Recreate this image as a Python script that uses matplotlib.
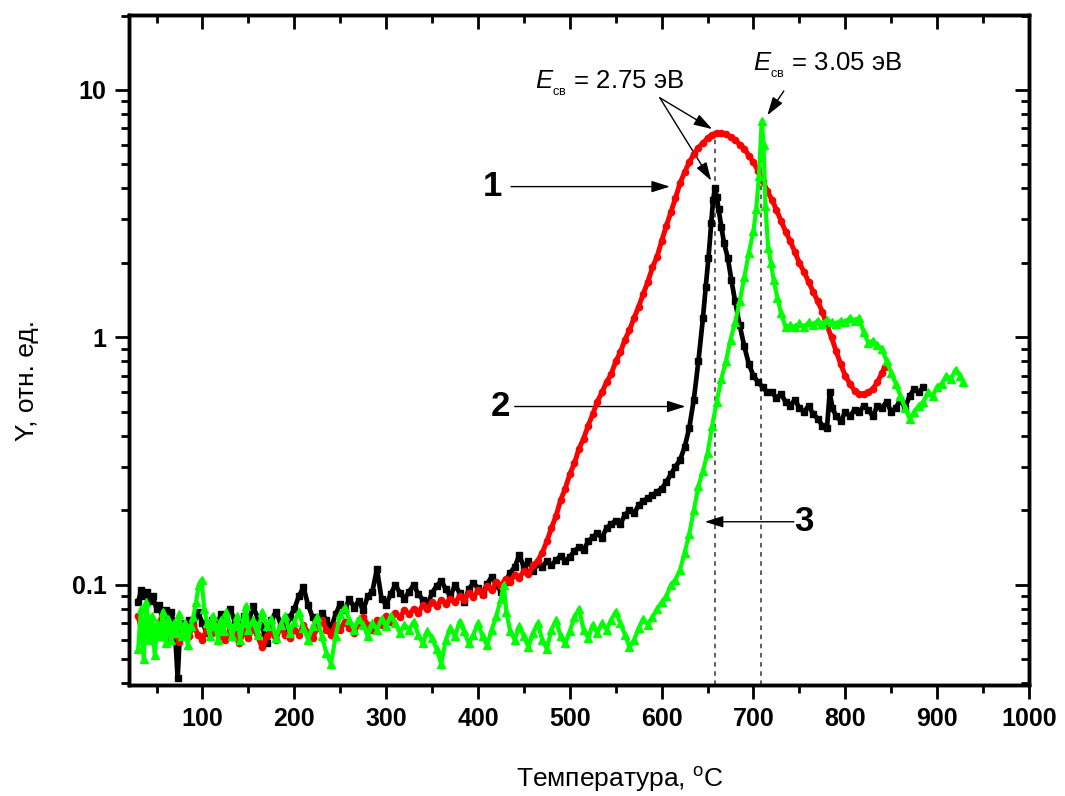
import numpy as np
import matplotlib
matplotlib.use('Agg')
import matplotlib.pyplot as plt

plt.rcParams['font.family'] = ['Liberation Sans', 'DejaVu Sans']
plt.rcParams['mathtext.fontset'] = 'custom'
plt.rcParams['mathtext.rm'] = 'Liberation Sans'
plt.rcParams['mathtext.it'] = 'Liberation Sans:italic'
plt.rcParams['mathtext.bf'] = 'Liberation Sans:bold'

# curve 1 (red)
t_red = [30, 35, 40, 45, 50, 55, 60, 65, 70, 75, 80, 85, 90, 95, 100, 105, 110, 115, 120, 125,
         130, 135, 140, 145, 150, 155, 160, 165, 170, 175, 180, 185, 190, 195, 200, 205, 210, 215,
         220, 225, 230, 235, 240, 245, 250, 255, 260, 265, 270, 275, 280, 285, 290, 295, 300, 305,
         310, 315, 320, 325, 330, 335, 340, 345, 350, 355, 360, 365, 370, 375, 380, 385, 390, 395,
         400, 405, 410, 415, 420, 425, 430, 435, 440, 445, 450, 455, 460, 465, 470, 475, 480, 485,
         490, 495, 500, 505, 510, 515, 520, 525, 530, 535, 540, 545, 550, 555, 560, 565, 570, 575,
         580, 585, 590, 595, 600, 605, 610, 615, 620, 625, 630, 635, 640, 645, 650, 655, 660, 665,
         670, 675, 680, 685, 690, 695, 700, 705, 710, 715, 720, 725, 730, 735, 740, 745, 750, 755,
         760, 765, 770, 775, 780, 785, 790, 795, 800, 805, 810, 815, 820, 825, 830, 835, 840, 843]
y_red = [0.075, 0.062, 0.07, 0.06, 0.066, 0.072, 0.061, 0.068, 0.063, 0.059, 0.066, 0.062, 0.069,
         0.063, 0.06, 0.067, 0.064, 0.07, 0.062, 0.06, 0.066, 0.063, 0.058, 0.065, 0.061, 0.067,
         0.062, 0.056, 0.062, 0.065, 0.06, 0.068, 0.063, 0.061, 0.066, 0.063, 0.069, 0.064, 0.061,
         0.067, 0.072, 0.066, 0.063, 0.069, 0.066, 0.071, 0.067, 0.064, 0.07, 0.074, 0.069, 0.066,
         0.072, 0.069, 0.075, 0.071, 0.077, 0.074, 0.079, 0.076, 0.08, 0.077, 0.083, 0.08, 0.085,
         0.082, 0.087, 0.084, 0.088, 0.085, 0.09, 0.087, 0.093, 0.089, 0.095, 0.091, 0.099, 0.095,
         0.103, 0.099, 0.106, 0.103, 0.11, 0.107, 0.114, 0.111, 0.12, 0.125, 0.135, 0.15, 0.17,
         0.19, 0.22, 0.245, 0.28, 0.31, 0.355, 0.39, 0.44, 0.49, 0.55, 0.6, 0.66, 0.71, 0.8, 0.87,
         0.98, 1.07, 1.2, 1.33, 1.5, 1.68, 1.92, 2.12, 2.45, 2.82, 3.2, 3.65, 4.2, 4.65, 5.1, 5.5,
         5.85, 6.1, 6.4, 6.6, 6.72, 6.68, 6.62, 6.45, 6.3, 6.02, 5.8, 5.42, 5.1, 4.72, 4.3, 3.92,
         3.6, 3.28, 2.96, 2.68, 2.45, 2.22, 2.0, 1.84, 1.68, 1.53, 1.4, 1.27, 1.12, 1.0, 0.88,
         0.78, 0.7, 0.65, 0.61, 0.59, 0.59, 0.6, 0.62, 0.66, 0.72, 0.76]

# curve 2 (black)
t_blk = [30, 33, 36, 40, 43, 46, 50, 53, 56, 60, 63, 66, 70, 73, 76, 80, 85, 90, 95, 100, 105,
         110, 115, 120, 125, 130, 135, 140, 145, 150, 155, 160, 165, 170, 175, 180, 185, 190, 195,
         200, 205, 210, 215, 220, 225, 230, 235, 240, 245, 250, 255, 260, 265, 270, 275, 280, 285,
         290, 295, 300, 305, 310, 315, 320, 325, 330, 335, 340, 345, 350, 355, 360, 365, 370, 375,
         380, 385, 390, 395, 400, 405, 410, 415, 420, 425, 430, 435, 440, 445, 450, 455, 460, 465,
         470, 475, 480, 485, 490, 495, 500, 505, 510, 515, 520, 525, 530, 535, 540, 545, 550, 555,
         560, 565, 570, 575, 580, 585, 590, 595, 600, 605, 610, 615, 620, 625, 630, 635, 640, 645,
         648, 651, 654, 656, 658, 660, 662, 665, 668, 672, 676, 680, 685, 690, 695, 700, 705, 710,
         715, 720, 725, 730, 735, 740, 745, 750, 755, 760, 765, 770, 775, 780, 783, 786, 790, 795,
         800, 805, 810, 815, 820, 825, 830, 835, 840, 845, 850, 855, 860, 865, 870, 875, 880, 885]
y_blk = [0.085, 0.095, 0.09, 0.094, 0.086, 0.09, 0.08, 0.083, 0.075, 0.079, 0.072, 0.078, 0.066,
         0.042, 0.07, 0.064, 0.072, 0.068, 0.078, 0.07, 0.064, 0.072, 0.066, 0.076, 0.07, 0.08,
         0.072, 0.065, 0.075, 0.07, 0.082, 0.074, 0.068, 0.058, 0.072, 0.078, 0.07, 0.065, 0.074,
         0.08, 0.09, 0.098, 0.083, 0.074, 0.069, 0.077, 0.072, 0.067, 0.076, 0.084, 0.079, 0.088,
         0.081, 0.086, 0.079, 0.09, 0.094, 0.116, 0.088, 0.083, 0.092, 0.1, 0.093, 0.088, 0.094,
         0.1, 0.092, 0.087, 0.083, 0.093, 0.099, 0.104, 0.096, 0.09, 0.1, 0.093, 0.085, 0.096,
         0.102, 0.097, 0.092, 0.101, 0.108, 0.1, 0.094, 0.103, 0.112, 0.118, 0.132, 0.118, 0.125,
         0.114, 0.122, 0.118, 0.125, 0.12, 0.126, 0.131, 0.125, 0.13, 0.137, 0.142, 0.138, 0.15,
         0.156, 0.162, 0.155, 0.17, 0.176, 0.182, 0.176, 0.192, 0.2, 0.195, 0.21, 0.218, 0.225,
         0.23, 0.238, 0.245, 0.26, 0.28, 0.3, 0.32, 0.36, 0.43, 0.56, 0.8, 1.2, 1.6, 2.1, 2.9,
         3.6, 4.0, 3.7, 3.3, 2.8, 2.4, 2.1, 1.7, 1.4, 1.12, 0.92, 0.78, 0.7, 0.66, 0.63, 0.6, 0.6,
         0.57, 0.59, 0.55, 0.53, 0.56, 0.52, 0.5, 0.53, 0.49, 0.47, 0.44, 0.43, 0.6, 0.52, 0.48,
         0.46, 0.5, 0.48, 0.51, 0.5, 0.53, 0.51, 0.48, 0.53, 0.52, 0.55, 0.5, 0.52, 0.56, 0.52,
         0.58, 0.62, 0.6, 0.63]

# curve 3 (green)
t_grn = [30, 33, 36, 39, 42, 45, 48, 51, 54, 57, 60, 63, 66, 69, 72, 75, 78, 81, 84, 87, 90, 93,
         96, 99, 102, 105, 108, 111, 114, 117, 120, 123, 126, 129, 132, 135, 138, 141, 144, 147,
         150, 155, 160, 165, 170, 175, 180, 185, 190, 195, 200, 205, 210, 215, 220, 225, 230, 235,
         240, 245, 250, 255, 260, 265, 270, 275, 280, 285, 290, 295, 300, 305, 310, 315, 320, 325,
         330, 335, 340, 345, 350, 355, 360, 365, 370, 375, 380, 385, 390, 395, 400, 405, 410, 415,
         420, 425, 428, 431, 435, 440, 445, 450, 455, 460, 465, 470, 475, 480, 485, 490, 495, 500,
         505, 510, 515, 520, 525, 530, 535, 540, 545, 550, 555, 560, 565, 570, 575, 580, 585, 590,
         595, 600, 605, 610, 615, 620, 625, 630, 635, 640, 645, 650, 655, 660, 665, 670, 675, 680,
         685, 690, 695, 700, 703, 706, 709, 711, 713, 716, 719, 722, 726, 730, 735, 740, 745, 750,
         755, 760, 765, 770, 775, 780, 785, 790, 795, 800, 805, 810, 815, 820, 825, 830, 835, 840,
         845, 850, 855, 860, 865, 870, 875, 880, 885, 890, 895, 900, 905, 910, 915, 920, 925, 928]
y_grn = [0.055, 0.08, 0.05, 0.085, 0.06, 0.075, 0.052, 0.07, 0.062, 0.078, 0.058, 0.073, 0.06,
         0.07, 0.064, 0.076, 0.062, 0.07, 0.057, 0.068, 0.074, 0.085, 0.1, 0.105, 0.08, 0.07, 0.062,
         0.075, 0.068, 0.06, 0.072, 0.065, 0.078, 0.07, 0.062, 0.068, 0.075, 0.06, 0.07, 0.082,
         0.066, 0.072, 0.063, 0.078, 0.068, 0.073, 0.061, 0.069, 0.075, 0.064, 0.071, 0.078, 0.067,
         0.06, 0.068, 0.074, 0.062, 0.053, 0.048, 0.062, 0.076, 0.081, 0.072, 0.066, 0.073, 0.069,
         0.062, 0.07, 0.066, 0.073, 0.068, 0.075, 0.07, 0.064, 0.069, 0.066, 0.071, 0.063, 0.058,
         0.065, 0.061, 0.055, 0.048, 0.06, 0.067, 0.062, 0.071, 0.065, 0.058, 0.063, 0.07, 0.062,
         0.057, 0.066, 0.075, 0.088, 0.1, 0.078, 0.065, 0.06, 0.068, 0.062, 0.056, 0.064, 0.07,
         0.06, 0.055, 0.066, 0.072, 0.062, 0.058, 0.065, 0.074, 0.08, 0.066, 0.061, 0.069, 0.064,
         0.07, 0.066, 0.072, 0.078, 0.07, 0.063, 0.056, 0.06, 0.067, 0.073, 0.069, 0.074, 0.08,
         0.085, 0.09, 0.1, 0.105, 0.115, 0.135, 0.16, 0.2, 0.25, 0.29, 0.34, 0.44, 0.55, 0.68, 0.8,
         0.98, 1.15, 1.4, 1.75, 2.2, 2.7, 3.3, 4.5, 7.5, 6.0, 3.4, 2.3, 2.0, 1.7, 1.45, 1.25, 1.1,
         1.12, 1.1, 1.14, 1.1, 1.15, 1.12, 1.17, 1.13, 1.18, 1.15, 1.13, 1.17, 1.15, 1.2, 1.17,
         1.2, 1.05, 0.95, 0.97, 0.93, 0.9, 0.8, 0.72, 0.65, 0.58, 0.52, 0.47, 0.5, 0.53, 0.55, 0.6,
         0.58, 0.63, 0.65, 0.7, 0.68, 0.74, 0.7, 0.66]

peak_t = [658, 708]
peak_y = [6.7, 7.6]

x_major = [100, 200, 300, 400, 500, 600, 700, 800, 900, 1000]
x_minor = [50, 150, 250, 350, 450, 550, 650, 750, 850, 950]
y_major = [0.1, 1, 10]
y_labels = ['0.1', '1', '10']

fig = plt.figure(figsize=(10.65, 7.96), dpi=100)
ax = fig.add_axes([0.1211, 0.1394, 0.8451, 0.8418])

ax.plot(t_blk, y_blk, color='black', lw=3.4, marker='s', ms=5, zorder=3)
ax.plot(t_red, y_red, color='#ff0000', lw=3.6, marker='o', ms=4.5, zorder=4)
ax.plot(t_grn, y_grn, color='#00ff00', lw=3.0, marker='^', ms=5.5, zorder=5)

ax.set_yscale('log')
ax.set_xlim(20, 1000)
ax.set_ylim(0.0394, 20.1)

ax.vlines(peak_t, 0.0394, peak_y, colors='#333333', linestyles=(0, (3, 3)), lw=1.1, zorder=2)

ax.set_xticks(x_major)
ax.set_xticklabels([str(v) for v in x_major], fontweight='bold', fontsize=18)
ax.set_xticks(x_minor, minor=True)
ax.set_yticks(y_major)
ax.set_yticklabels(y_labels, fontweight='bold', fontsize=18)
ax.tick_params(which='major', length=10, width=2.0, direction='out', pad=6)
ax.tick_params(which='minor', length=5.5, width=2.0, direction='out')
for sp in ax.spines.values():
    sp.set_linewidth(2.4)

# inward ticks on top and right
axr = ax.twinx()
axr.set_yscale('log')
axr.set_ylim(ax.get_ylim())
axr.set_yticks(y_major)
axr.tick_params(which='major', length=10, width=2.0, direction='in', labelright=False)
axr.tick_params(which='minor', length=5.5, width=2.0, direction='in')
axt = ax.twiny()
axt.set_xlim(ax.get_xlim())
axt.set_xticks(x_major)
axt.set_xticks(x_minor, minor=True)
axt.tick_params(which='major', length=10, width=2.0, direction='in', labeltop=False)
axt.tick_params(which='minor', length=5.5, width=2.0, direction='in')
for a in (axr, axt):
    for sp in a.spines.values():
        sp.set_linewidth(2.4)

ax.set_ylabel('Y, отн. ед.', fontsize=19)
ax.yaxis.set_label_coords(-0.1, 0.455)
ax.set_xlabel('Температура, $^{\\mathrm{o}}$C', fontsize=19)
ax.xaxis.set_label_coords(0.545, -0.12)

arr = dict(arrowstyle='-|>,head_length=0.7,head_width=0.22', color='black', lw=1,
           shrinkA=0, shrinkB=0, mutation_scale=16)

ax.text(416, 4.07, '1', fontsize=25, fontweight='bold', ha='center', va='center')
ax.annotate('', xy=(609, 4.07), xytext=(436, 4.07), arrowprops=arr)
ax.text(424, 0.526, '2', fontsize=25, fontweight='bold', ha='center', va='center')
ax.annotate('', xy=(626, 0.526), xytext=(440, 0.526), arrowprops=arr)
ax.text(755, 0.18, '3', fontsize=25, fontweight='bold', ha='center', va='center')
ax.annotate('', xy=(647, 0.18), xytext=(744, 0.18), arrowprops=arr)

ax.text(462, 10.6, '$E_{_{\\mathrm{св}}}$ = 2.75 эВ', fontsize=18.5, ha='left', va='center')
ax.annotate('', xy=(655, 6.95), xytext=(598, 9.3), arrowprops=arr)
ax.annotate('', xy=(654, 4.3), xytext=(598, 9.3), arrowprops=arr)
ax.text(700, 12.6, '$E_{_{\\mathrm{св}}}$ = 3.05 эВ', fontsize=18.5, ha='left', va='center')
ax.annotate('', xy=(715, 7.9), xytext=(733, 9.9), arrowprops=arr)

fig.savefig('out.png', dpi=100)
